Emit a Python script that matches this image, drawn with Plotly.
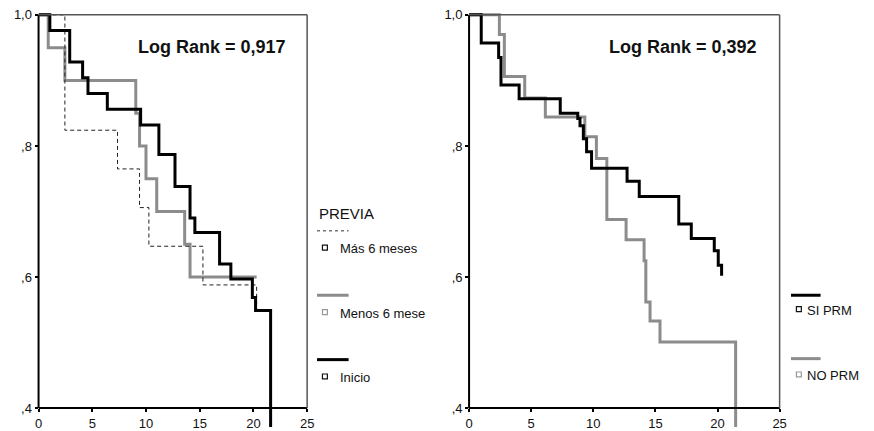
import plotly.graph_objects as go

W, H = 874, 431

# ---------------- data ----------------
# Left panel: PREVIA groups
mas_t = [0, 2.45, 7.35, 9.4, 10.27, 15.3, 20.3]
mas_s = [1.0, 0.824, 0.765, 0.706, 0.647, 0.588, 0.545]

menos_t = [0, 0.9, 2.45, 9.05, 9.4, 10.0, 11.0, 13.6, 14.1, 20.3]
menos_s = [1.0, 0.95, 0.90, 0.85, 0.80, 0.75, 0.70, 0.65, 0.60, 0.60]

inicio_t = [0, 1.05, 2.9, 4.1, 4.6, 6.4, 9.5, 11.2, 12.7, 14.1, 14.55, 16.85, 17.9, 19.9, 20.2, 21.6]
inicio_s = [1.0, 0.976, 0.928, 0.904, 0.880, 0.856, 0.832, 0.787, 0.738, 0.690, 0.668,
            0.620, 0.597, 0.569, 0.549, 0.0]

# Right panel: PRM groups
si_t = [0, 0.98, 2.38, 2.57, 4.03, 7.34, 8.75, 8.93, 9.2, 9.46, 9.86, 12.72, 13.7,
        16.88, 17.89, 19.74, 20.06, 20.33]
si_s = [1.0, 0.957, 0.935, 0.893, 0.872, 0.850, 0.842, 0.831, 0.811, 0.791, 0.766,
        0.746, 0.723, 0.681, 0.659, 0.640, 0.618, 0.602]

no_t = [0, 2.44, 2.84, 4.48, 6.14, 9.32, 10.25, 11.09, 12.64, 14.09, 14.23, 14.57, 15.37, 21.46]
no_s = [1.0, 0.970, 0.906, 0.873, 0.844, 0.814, 0.781, 0.688, 0.657, 0.625, 0.562,
        0.533, 0.501, 0.0]

x_ticks = [0, 5, 10, 15, 20, 25]
y_ticks = [0.4, 0.6, 0.8, 1.0]
y_ticktext = [",4", ",6", ",8", "1,0"]

left_title = "PREVIA"
left_labels = ["Más 6 meses", "Menos 6 mese", "Inicio"]
right_labels = ["SI PRM", "NO PRM"]
logrank_left = "Log Rank = 0,917"
logrank_right = "Log Rank = 0,392"

BLACK = "#000000"
GRAY = "#8c8c8c"
FONT = "Arial, Liberation Sans, sans-serif"


def px(x):
    return x / W


def py(y):
    return 1 - y / H


# pixel geometry
Y_TOP, Y_BOT = 15, 412          # value 1.0 and 0.4
PPU = (Y_BOT - Y_TOP) / 0.6     # pixels per unit of survival
y_hi = 1 + (Y_TOP - 5) / PPU
y_lo = 1 - (H - Y_TOP) / PPU

L0, L1 = 35, 307
R0, R1 = 471, 785.5

fig = go.Figure()


def add(t, s, color, width, xa, ya, dash="solid"):
    fig.add_trace(go.Scatter(x=t, y=s, mode="lines", line=dict(color=color, width=width, shape="hv", dash=dash),
                             xaxis=xa, yaxis=ya, showlegend=False, hoverinfo="skip"))


add(menos_t, menos_s, GRAY, 3, "x", "y")
add(mas_t, mas_s, "#222222", 1, "x", "y", dash="4px,3px")
add(inicio_t, inicio_s, BLACK, 3, "x", "y")

add(no_t, no_s, GRAY, 3, "x2", "y2")
add(si_t, si_s, BLACK, 3, "x2", "y2")

xa_common = dict(range=[0, 25], tickvals=x_ticks, ticktext=[str(v) for v in x_ticks],
                 showgrid=False, zeroline=False, showline=True, linecolor=BLACK, linewidth=2,
                 ticks="outside", ticklen=3, tickwidth=2, tickcolor=BLACK,
                 tickfont=dict(family=FONT, size=13, color="#111"), anchor="free", position=py(Y_BOT))
ya_common = dict(range=[y_lo, y_hi], domain=[0, py(5)], tickvals=y_ticks, ticktext=y_ticktext,
                 showgrid=False, zeroline=False, showline=False,
                 ticks="outside", ticklen=3, tickwidth=2, tickcolor=BLACK,
                 tickfont=dict(family=FONT, size=13, color="#111"))

fig.update_layout(
    width=W, height=H, margin=dict(l=0, r=0, t=0, b=0),
    paper_bgcolor="white", plot_bgcolor="rgba(0,0,0,0)",
    xaxis=dict(domain=[px(L0), px(L1)], **xa_common),
    yaxis=dict(anchor="x", **ya_common),
    xaxis2=dict(domain=[px(R0), px(R1)], **xa_common),
    yaxis2=dict(anchor="x2", **ya_common),
    showlegend=False,
)

shapes = []


def line(x0, y0, x1, y1, color, width, dash="solid"):
    shapes.append(dict(type="line", xref="paper", yref="paper", x0=px(x0), y0=py(y0), x1=px(x1), y1=py(y1),
                       line=dict(color=color, width=width, dash=dash)))


def square(cx, cy, color):
    shapes.append(dict(type="rect", xref="paper", yref="paper", x0=px(cx - 2.5), x1=px(cx + 2.5),
                       y0=py(cy + 2.5), y1=py(cy - 2.5), line=dict(color=color, width=1.2), fillcolor="white"))


# panel frames
for a, b in ((L0, L1), (R0, R1)):
    line(a, Y_TOP, a, Y_BOT, BLACK, 2)
    line(a, Y_TOP, b, Y_TOP, "#555555", 1.5)
    line(b, Y_TOP, b, Y_BOT, "#555555", 1.5)

# left legend
line(317, 233, 349, 233, "#333333", 1, dash="3px,3px")
square(325, 250, "#111111")
line(317, 298, 349, 298, GRAY, 3)
square(325, 315, "#999999")
line(317, 363, 349, 363, BLACK, 3)
square(325, 380, "#111111")

# right legend
line(797, 298, 827, 298, BLACK, 3)
square(805, 312, "#111111")
line(797, 362, 827, 362, GRAY, 3)
square(805, 378, "#999999")

fig.update_layout(shapes=shapes)

ann = []


def text(x, y, s, size, bold=False, anchor="left"):
    ann.append(dict(xref="paper", yref="paper", x=px(x), y=py(y), text=f"<b>{s}</b>" if bold else s,
                    showarrow=False, xanchor=anchor, yanchor="middle",
                    font=dict(family=FONT, size=size, color="#111")))


text(317, 216, left_title, 15)
text(338, 251, left_labels[0], 13)
text(338, 316, left_labels[1], 13)
text(338, 381, left_labels[2], 13)
text(811, 313, right_labels[0], 13)
text(811, 379, right_labels[1], 13)
text(211, 47, logrank_left, 18, bold=True, anchor="center")
text(688, 47, logrank_right, 18, bold=True, anchor="center")

fig.update_layout(annotations=ann)

fig.write_html("out.html")
